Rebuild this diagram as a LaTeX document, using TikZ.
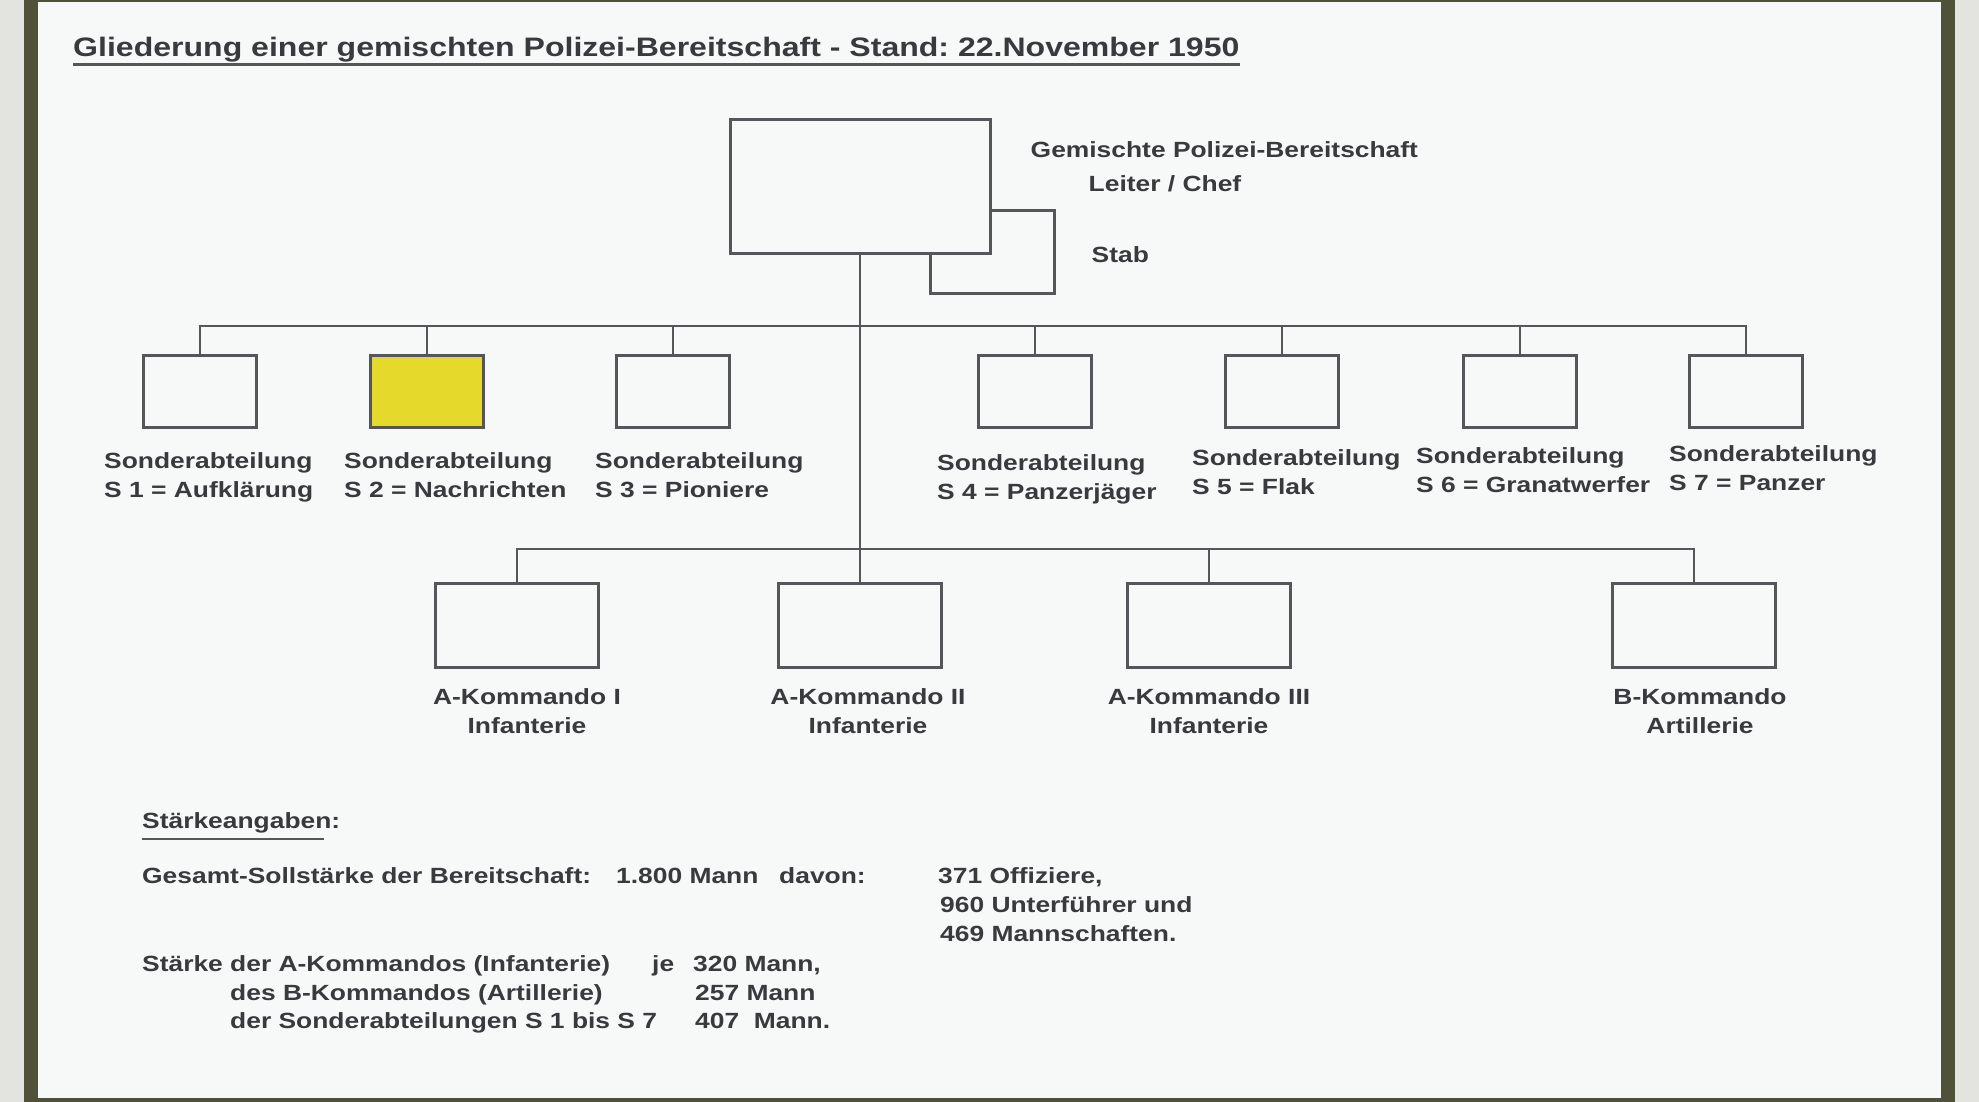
\documentclass[tikz,border=0pt]{standalone}
\usepackage{fontspec}
\setmainfont{Liberation Sans}[FakeStretch=1.2]
\usetikzlibrary{positioning,calc}
\definecolor{outer}{HTML}{E3E3DF}
\definecolor{frame}{HTML}{4F5139}
\definecolor{paper}{HTML}{F7F8F8}
\definecolor{ink}{HTML}{3A3A3E}
\definecolor{rule}{HTML}{55555A}
\definecolor{signal}{HTML}{E5DA2C}
\frenchspacing

\begin{document}
\begin{tikzpicture}[x=1pt, y=-1pt,
    unit/.style={draw=rule, line width=3pt, fill=paper, inner sep=0pt,
        minimum width=113pt, minimum height=72pt},
    kdo/.style={unit, minimum width=163pt, minimum height=84pt},
    link/.style={draw=rule, line width=2.2pt},
    lbl/.style={text=ink, inner sep=0pt, align=left,
        font=\bfseries\fontsize{22}{29}\selectfont},
    txt/.style={text=ink, inner sep=0pt, anchor=base west,
        font=\bfseries\fontsize{22}{29}\selectfont}]
    % frame
    \fill[outer] (0, 0) rectangle (1979, 1102);
    \fill[frame] (24, 0) rectangle (1955, 1102);
    \fill[paper] (38, 2) rectangle (1941, 1098);
    \useasboundingbox (0, 0) rectangle (1979, 1102);

    % title
    \node[txt, font=\bfseries\fontsize{26.7}{31}\selectfont] (title) at (73, 57)
        {Gliederung einer gemischten Polizei-Bereitschaft - Stand: 22.November 1950};
    \draw[rule, line width=3pt] ([yshift=-8pt]title.base west) -- ([yshift=-8pt]title.base east);

    % leitung
    \node[unit, minimum width=124pt, minimum height=83pt] (stab) at (992, 252) {};
    \node[unit, minimum width=260pt, minimum height=134pt] (chef) at (860, 187) {};
    \node[lbl, below right=23pt and 39pt of chef.north east] (chefname) {Gemischte Polizei-Bereitschaft};
    \node[lbl, below right=57pt and 97pt of chef.north east] (cheflbl) {Leiter / Chef};
    \node[lbl, below right=37pt and 36pt of stab.north east] (stablbl) {Stab};

    % sonderabteilungen
    \node[unit] (s1) at (200, 391) {};
    \node[unit, fill=signal] (s2) at (427, 391) {};
    \node[unit] (s3) at (673, 391) {};
    \node[unit] (s4) at (1035, 391) {};
    \node[unit] (s5) at (1282, 391) {};
    \node[unit] (s6) at (1520, 391) {};
    \node[unit] (s7) at (1746, 391) {};
    \coordinate (bus1) at (860, 326);
    \draw[link] (s1.north) |- (bus1) -| (s7.north);
    \foreach \n in {s2, s3, s4, s5, s6}
        \draw[link] (\n.north) -- (\n.north |- bus1);

    \node[lbl, below right=24pt and -38pt of s1.south west] (l1) {Sonderabteilung\\S 1 = Aufklärung};
    \node[lbl, below right=24pt and -25pt of s2.south west] (l2) {Sonderabteilung\\S 2 = Nachrichten};
    \node[lbl, below right=24pt and -20pt of s3.south west] (l3) {Sonderabteilung\\S 3 = Pioniere};
    \node[lbl, below right=26pt and -40pt of s4.south west] (l4) {Sonderabteilung\\S 4 = Panzerjäger};
    \node[lbl, below right=21pt and -32pt of s5.south west] (l5) {Sonderabteilung\\S 5 = Flak};
    \node[lbl, below right=19pt and -46pt of s6.south west] (l6) {Sonderabteilung\\S 6 = Granatwerfer};
    \node[lbl, below right=17pt and -19pt of s7.south west] (l7) {Sonderabteilung\\S 7 = Panzer};

    % kommandos
    \node[kdo] (ak1) at (517, 625) {};
    \node[kdo] (ak2) at (860, 625) {};
    \node[kdo] (ak3) at (1209, 625) {};
    \node[kdo] (bk) at (1694, 625) {};
    \coordinate (bus2) at (860, 549);
    \draw[link] (chef.south) -- (ak2.north);
    \draw[link] (ak1.north) |- (bus2) -| (bk.north);
    \draw[link] (ak3.north) -- (ak3.north |- bus2);

    \node[lbl, align=center, below=20pt of ak1.south, xshift=10pt] (k1) {A-Kommando I\\Infanterie};
    \node[lbl, align=center, below=20pt of ak2.south, xshift=8pt] (k2) {A-Kommando II\\Infanterie};
    \node[lbl, align=center, below=20pt of ak3.south] (k3) {A-Kommando III\\Infanterie};
    \node[lbl, align=center, below=20pt of bk.south, xshift=6pt] (k4) {B-Kommando\\Artillerie};

    % staerkeangaben
    \node[txt] (kopf) at (142, 828) {Stärkeangaben:};
    \draw[rule, line width=2.5pt] ([yshift=-11pt]kopf.base west) -- ([yshift=-11pt, xshift=-16pt]kopf.base east);
    \node[txt] (gesamt) at (142, 883) {Gesamt-Sollstärke der Bereitschaft:};
    \node[txt] (gesamtzahl) at (616, 883) {1.800 Mann};
    \node[txt] (davon) at (779, 883) {davon:};
    \node[txt] (offz) at (938, 883) {371 Offiziere,};
    \node[txt] (uffz) at (940, 912) {960 Unterführer und};
    \node[txt] (mannsch) at (940, 941) {469 Mannschaften.};
    \node[txt] (akstark) at (142, 971) {Stärke der A-Kommandos (Infanterie)};
    \node[txt] (je) at (652, 971) {je};
    \node[txt] (akzahl) at (693, 971) {320 Mann,};
    \node[txt] (bkstark) at (230, 1000) {des B-Kommandos (Artillerie)};
    \node[txt] (bkzahl) at (695, 1000) {257 Mann};
    \node[txt] (sstark) at (230, 1028) {der Sonderabteilungen S 1 bis S 7};
    \node[txt] (szahl) at (695, 1028) {407\ \ Mann.};
\end{tikzpicture}
\end{document}
